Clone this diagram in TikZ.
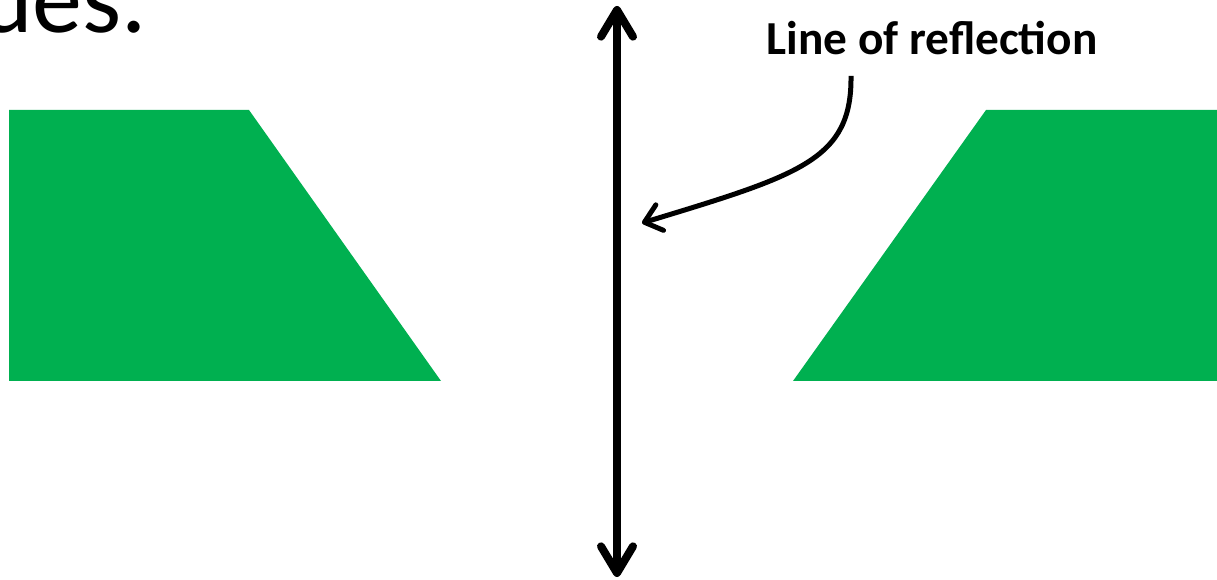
\documentclass[tikz,border=0pt]{standalone}
\usepackage{fontspec}
\setmainfont{Carlito}
\usetikzlibrary{arrows.meta}
\definecolor{offgreen}{HTML}{00B050}
\tikzset{
  shapefill/.style={fill=offgreen},
  axisarrow/.style={line width=6pt, {Straight Barb[length=20pt,width=24pt,round]}-{Straight Barb[length=20pt,width=24pt,round]}},
  callout/.style={line width=3.75pt, -{Straight Barb[length=12pt,width=20pt,round]}},
}
\begin{document}
\begin{tikzpicture}[x=0.75pt,y=-0.75pt]
\useasboundingbox (0,0) rectangle (1217,580);
\fill[white] (0,0) rectangle (1217,580);
% partial title text
\node[anchor=base east, inner sep=0pt, font=\fontsize{75pt}{80pt}\selectfont] (title) at (147,33) {ues.};
% trapezoids
\fill[shapefill] (9,110) -- (249,110) -- (441,381) -- (9,381) -- cycle;
\fill[shapefill] (986,110) -- (1225,110) -- (1225,381) -- (793,381) -- cycle;
% line of reflection
\coordinate (top) at (617,6);
\coordinate (bot) at (617,577);
\draw[axisarrow] (bot) -- (top);
% label and callout
\node[inner sep=0pt, font=\bfseries\fontsize{35.5pt}{40pt}\selectfont] (lbl) at (932,38) {Line of reflection};
\coordinate (cs) at (851,76);
\coordinate (ce) at (642,223);
\draw[callout] (cs) .. controls (852,160) and (800,175) .. (ce);
\end{tikzpicture}
\end{document}
